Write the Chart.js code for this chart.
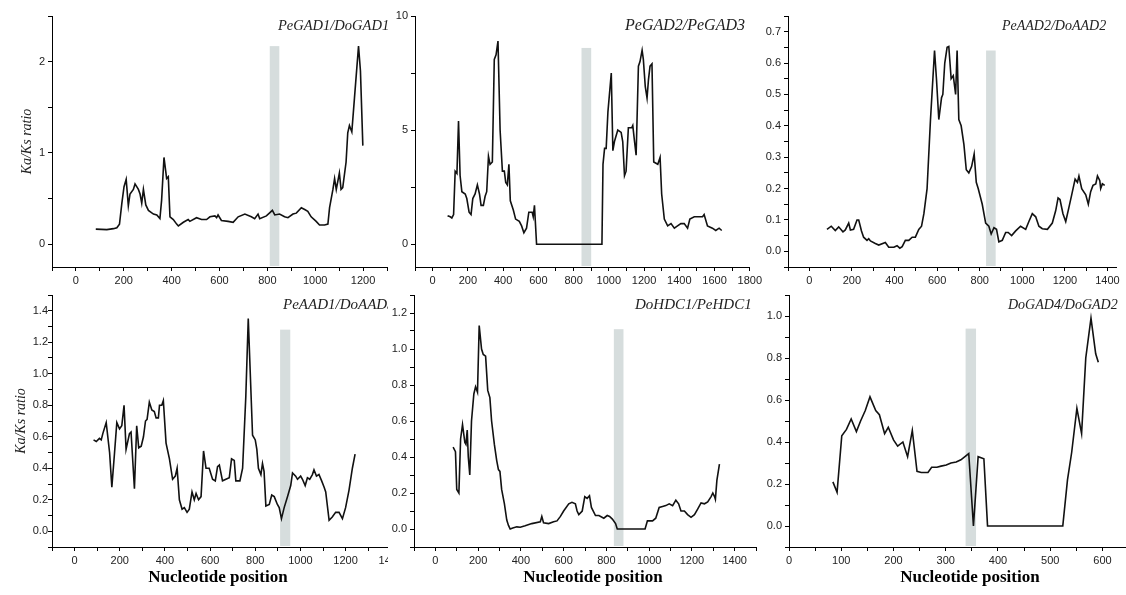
<!DOCTYPE html>
<html>
<head>
<meta charset="utf-8">
<title>Ka/Ks ratio</title>
<script src="https://cdn.jsdelivr.net/npm/chart.js@4.4.1/dist/chart.umd.min.js"></script>
<style>
    html, body { margin: 0; padding: 0; background: #fff; }
    #wrap { position: relative; width: 1126px; height: 595px; overflow: hidden; }
    .panel { position: absolute; overflow: hidden; }
    .panel canvas { display: block; }
</style>
</head>
<body>
<div id="wrap"></div>
<script>
        // 패널 이름
        const names = ['PeGAD1/DoGAD1', 'PeGAD2/PeGAD3', 'PeAAD2/DoAAD2', 'PeAAD1/DoAAD3', 'DoHDC1/PeHDC1', 'DoGAD4/DoGAD2'];

        // nucleotide position / Ka/Ks ratio
        const pos1 = [83,129,157,171,182,192,201,210,219,226,240,247,261,268,275,282,292,303,324,338,351,358,368,379,386,393,407,421,428,449,469,476,504,525,546,560,581,588,594,608,636,657,678,706,733,747,761,768,796,821,831,851,872,886,907,921,942,956,969,983,1004,1018,1039,1053,1060,1074,1081,1088,1101,1108,1115,1129,1136,1143,1153,1164,1181,1189,1199];
        const ratio1 = [0.165,0.16,0.17,0.18,0.22,0.45,0.63,0.71,0.42,0.55,0.6,0.66,0.6,0.55,0.45,0.6,0.43,0.37,0.33,0.32,0.28,0.48,0.95,0.72,0.74,0.3,0.27,0.22,0.2,0.24,0.27,0.25,0.29,0.27,0.27,0.3,0.31,0.29,0.32,0.26,0.25,0.24,0.3,0.33,0.3,0.28,0.33,0.28,0.31,0.37,0.32,0.33,0.3,0.29,0.33,0.34,0.4,0.38,0.36,0.3,0.25,0.21,0.21,0.22,0.4,0.6,0.72,0.6,0.78,0.6,0.62,0.9,1.22,1.3,1.23,1.6,2.17,1.9,1.08];

        const pos2 = [85,100,109,119,128,138,147,156,166,185,194,207,218,228,241,254,266,275,288,298,307,317,326,339,350,360,371,383,396,407,415,424,433,441,458,471,492,505,518,533,546,565,571,578,590,961,967,976,985,995,1014,1023,1032,1051,1070,1079,1089,1098,1111,1130,1136,1146,1155,1168,1177,1189,1196,1207,1217,1225,1234,1245,1255,1278,1291,1300,1315,1334,1353,1372,1390,1409,1428,1447,1460,1485,1504,1532,1541,1560,1588,1607,1626,1641];
        const ratio2 = [1.25,1.2,1.15,1.3,3.2,3.1,5.4,3.0,2.3,2.2,2.0,1.4,1.3,2.0,2.2,2.6,2.2,1.7,1.7,2.1,2.3,3.85,3.5,3.6,8.1,8.3,8.9,5.0,3.2,3.2,2.7,2.6,3.5,1.9,1.5,1.1,1.0,0.8,0.5,0.7,1.4,1.4,1.2,1.7,0,0,3.5,4.2,4.2,5.8,7.5,4.1,4.5,5.0,4.9,4.5,3.0,3.2,5.1,5.1,5.2,4.5,3.9,7.8,8.0,8.5,8.1,6.9,6.4,7.2,7.8,7.9,3.6,3.5,3.8,2.2,1.1,0.8,0.9,0.7,0.8,0.9,0.9,0.7,1.1,1.2,1.2,1.2,1.3,0.8,0.7,0.6,0.7,0.6];

        const pos3 = [83,103,122,138,158,169,185,193,208,224,232,245,255,271,279,287,310,326,357,373,397,412,425,436,451,467,483,498,514,527,538,553,569,588,597,608,621,627,636,647,655,666,676,687,694,702,713,726,737,749,762,774,784,793,812,828,843,854,867,879,890,906,922,934,950,969,992,1016,1031,1047,1063,1078,1094,1118,1141,1157,1168,1177,1191,1204,1219,1232,1248,1259,1266,1279,1298,1310,1321,1332,1345,1353,1364,1368,1376,1387];
        const ratio3 = [0.07,0.08,0.066,0.078,0.062,0.068,0.09,0.068,0.07,0.1,0.1,0.065,0.045,0.035,0.04,0.033,0.025,0.02,0.028,0.013,0.013,0.018,0.01,0.015,0.035,0.035,0.045,0.045,0.07,0.08,0.12,0.2,0.42,0.64,0.55,0.42,0.49,0.5,0.6,0.65,0.653,0.55,0.56,0.5,0.64,0.42,0.4,0.34,0.26,0.25,0.27,0.31,0.22,0.2,0.15,0.09,0.08,0.055,0.075,0.07,0.03,0.035,0.06,0.06,0.05,0.065,0.08,0.07,0.095,0.12,0.11,0.08,0.072,0.07,0.09,0.13,0.17,0.165,0.12,0.095,0.14,0.18,0.23,0.22,0.24,0.2,0.18,0.15,0.19,0.21,0.215,0.24,0.225,0.2,0.215,0.21];

        const pos4 = [84,96,110,118,125,140,155,165,177,187,199,209,219,228,243,250,265,275,284,295,305,314,321,331,342,353,361,371,376,386,393,405,420,434,446,454,464,476,486,498,508,520,530,538,549,560,571,582,596,611,623,633,641,655,670,685,695,707,714,732,744,758,769,778,788,800,807,814,825,832,839,847,862,873,884,898,906,916,928,943,957,965,979,987,1001,1009,1021,1031,1041,1053,1060,1071,1082,1094,1105,1112,1127,1141,1156,1171,1186,1200,1215,1230,1242];
        const ratio4 = [0.58,0.57,0.59,0.58,0.62,0.69,0.5,0.28,0.5,0.69,0.65,0.67,0.8,0.52,0.62,0.63,0.27,0.67,0.53,0.54,0.6,0.7,0.71,0.82,0.77,0.76,0.72,0.72,0.8,0.8,0.83,0.56,0.46,0.33,0.35,0.4,0.2,0.14,0.15,0.12,0.14,0.25,0.2,0.24,0.2,0.22,0.51,0.4,0.4,0.33,0.32,0.41,0.42,0.32,0.33,0.34,0.46,0.45,0.32,0.32,0.4,0.85,1.35,1.0,0.61,0.58,0.52,0.4,0.36,0.43,0.38,0.16,0.17,0.23,0.22,0.17,0.15,0.08,0.15,0.22,0.29,0.37,0.35,0.33,0.35,0.33,0.29,0.34,0.33,0.36,0.39,0.35,0.36,0.32,0.28,0.25,0.07,0.09,0.12,0.12,0.08,0.15,0.26,0.4,0.49];

        const pos5 = [83,94,100,110,118,127,138,143,149,154,161,169,180,188,197,205,216,224,235,245,255,263,276,287,295,302,310,323,334,342,350,362,381,397,420,451,491,498,506,530,553,569,585,600,624,639,655,663,671,687,699,710,721,730,749,765,788,804,815,828,843,851,981,992,1016,1031,1047,1063,1078,1094,1110,1125,1138,1149,1165,1180,1196,1212,1227,1243,1259,1274,1290,1298,1306,1310,1317,1329];
        const ratio5 = [0.455,0.43,0.22,0.2,0.5,0.58,0.48,0.47,0.55,0.4,0.3,0.6,0.75,0.79,0.76,1.13,1.0,0.97,0.96,0.77,0.73,0.6,0.47,0.38,0.33,0.32,0.22,0.14,0.05,0.02,0.0,0.005,0.012,0.01,0.018,0.03,0.04,0.07,0.035,0.03,0.04,0.045,0.07,0.1,0.14,0.148,0.14,0.1,0.08,0.1,0.18,0.17,0.185,0.12,0.075,0.075,0.06,0.075,0.07,0.055,0.03,0.0,0.0,0.045,0.045,0.06,0.12,0.125,0.13,0.14,0.13,0.16,0.14,0.1,0.1,0.08,0.065,0.08,0.11,0.145,0.14,0.15,0.18,0.2,0.18,0.165,0.27,0.36];

        const pos6 = [84,92,101,110,119,129,137,146,155,166,173,183,190,200,208,218,227,236,245,253,266,273,283,291,301,310,320,329,344,353,362,373,380,524,533,541,551,560,568,578,587,592];
        const ratio6 = [0.21,0.16,0.43,0.46,0.51,0.45,0.5,0.55,0.615,0.55,0.53,0.44,0.47,0.41,0.38,0.4,0.33,0.455,0.26,0.255,0.255,0.28,0.28,0.285,0.29,0.3,0.305,0.315,0.345,0.0,0.33,0.32,0.0,0.0,0.22,0.35,0.56,0.44,0.8,0.99,0.82,0.78];

        // 회색 영역 (start, end, top)
        const bandStart = [810, 845, 830, 910, 835, 338];
        const bandEnd = [850, 900, 875, 955, 880, 358];
        const bandTop = [2.17, 8.6, 0.64, 1.28, 1.11, 0.94];

        const positions = [pos1, pos2, pos3, pos4, pos5, pos6];
        const ratios = [ratio1, ratio2, ratio3, ratio4, ratio5, ratio6];

        // 패널 배치 / 축 범위  x: [min, max, step, major]  y: [min, max, step, major, decimals]
        const layout = [
            { left: 0, top: 0, width: 400, height: 290, clip: 388, yW: 52, padTop: 16, padRight: 13, xH: 23, yPad: 3, yTitlePad: 19,
              x: [-100, 1300, 100, 200], y: [-0.25, 2.5, 0.5, 1, 0], yTitle: true, xTitle: false, nameX: 226, nameSize: 14.5 },
            { left: 388, top: 0, width: 377, height: 290, yW: 27, padTop: 16, padRight: 14, xH: 23, yPad: 3,
              x: [-100, 1800, 100, 200], y: [-1, 10, 2.5, 5, 0], yTitle: false, xTitle: false, nameX: 210, nameSize: 16 },
            { left: 765, top: 0, width: 361, height: 290, yW: 23, padTop: 16, padRight: 10, xH: 23, yPad: 3,
              x: [-100, 1440, 100, 200], y: [-0.05, 0.75, 0.05, 0.1, 1], yTitle: false, xTitle: false, nameX: 214, nameSize: 14 },
            { left: 0, top: 280, width: 406, height: 315, clip: 388, yW: 52, padTop: 15, padRight: 14, xH: 48, yPad: 0, yTitlePad: 13,
              x: [-100, 1400, 100, 200], y: [-0.1, 1.5, 0.1, 0.2, 1], yTitle: true, xTitle: true, nameX: 231, nameSize: 15, xTitleX: 166 },
            { left: 388, top: 280, width: 382, height: 315, yW: 26, padTop: 15, padRight: 14, xH: 48, yPad: 3,
              x: [-100, 1500, 100, 200], y: [-0.1, 1.3, 0.1, 0.2, 1], yTitle: false, xTitle: true, nameX: 221, nameSize: 15, xTitleX: 179 },
            { left: 765, top: 280, width: 361, height: 315, yW: 24, padTop: 15, padRight: 0, xH: 48, yPad: 3,
              x: [0, 645, 50, 100], y: [-0.1, 1.1, 0.1, 0.2, 1], yTitle: false, xTitle: true, nameX: 219, nameSize: 14, xTitleX: 181 }
        ];

        const tickFont = { family: "'Liberation Sans', Arial, sans-serif", size: 11 };

        function makeTicks(min, max, step) {
            const ticks = [];
            for (let v = Math.ceil(min / step - 1e-9) * step; v <= max + 1e-9; v += step) {
                ticks.push({ value: +v.toFixed(6) });
            }
            return ticks;
        }

        function majorLabel(major, decimals) {
            return function (value) {
                const q = value / major;
                if (Math.abs(q - Math.round(q)) > 1e-6) return '';
                return Number(value).toFixed(decimals);
            };
        }

        // 회색 영역 + 패널 텍스트
        const panelDeco = {
            id: 'panelDeco',
            beforeDatasetsDraw(chart, args, opts) {
                const { ctx, chartArea, scales: { x, y } } = chart;
                const x1 = x.getPixelForValue(opts.bandStart);
                const x2 = x.getPixelForValue(opts.bandEnd);
                const y1 = y.getPixelForValue(opts.bandTop);
                ctx.save();
                ctx.fillStyle = 'rgb(214, 221, 221)';
                ctx.fillRect(x1, y1, x2 - x1, chartArea.bottom - 1 - y1);
                ctx.restore();
            },
            afterDraw(chart, args, opts) {
                const { ctx, chartArea } = chart;
                ctx.save();
                ctx.fillStyle = '#222';
                ctx.textBaseline = 'middle';
                ctx.textAlign = 'left';
                ctx.font = 'italic ' + opts.nameSize + 'px "Liberation Serif", "Times New Roman", serif';
                ctx.fillText(opts.name, chartArea.left + opts.nameX, chartArea.top + 10);
                if (opts.xTitle) {
                    ctx.fillStyle = '#000';
                    ctx.textAlign = 'center';
                    ctx.font = 'bold 17px "Liberation Serif", "Times New Roman", serif';
                    ctx.fillText('Nucleotide position', chartArea.left + opts.xTitleX, chartArea.bottom + 31);
                }
                ctx.restore();
            }
        };

        function createPanel(i) {
            const L = layout[i];
            const box = document.createElement('div');
            box.className = 'panel';
            box.style.left = L.left + 'px';
            box.style.top = L.top + 'px';
            box.style.width = (L.clip || L.width) + 'px';
            box.style.height = L.height + 'px';
            const canvas = document.createElement('canvas');
            canvas.width = L.width;
            canvas.height = L.height;
            box.appendChild(canvas);
            document.getElementById('wrap').appendChild(box);

            const points = positions[i].map((p, k) => ({ x: p, y: ratios[i][k] }));

            return new Chart(canvas.getContext('2d'), {
                type: 'line',
                data: {
                    datasets: [{
                        label: names[i],
                        data: points,
                        borderColor: '#111',
                        borderWidth: 1.6,
                        pointRadius: 0,
                        tension: 0,
                        fill: false
                    }]
                },
                options: {
                    responsive: false,
                    animation: false,
                    events: [],
                    layout: { padding: { left: 0, top: L.padTop, right: L.padRight, bottom: 0 } },
                    plugins: {
                        legend: { display: false },
                        tooltip: { enabled: false },
                        panelDeco: {
                            name: names[i],
                            nameX: L.nameX,
                            nameSize: L.nameSize,
                            xTitle: L.xTitle,
                            xTitleX: L.xTitleX,
                            bandStart: bandStart[i],
                            bandEnd: bandEnd[i],
                            bandTop: bandTop[i]
                        }
                    },
                    scales: {
                        x: {
                            type: 'linear',
                            min: L.x[0],
                            max: L.x[1],
                            afterBuildTicks: s => { s.ticks = makeTicks(L.x[0], L.x[1], L.x[2]); },
                            afterFit: s => { s.height = L.xH; },
                            grid: { drawOnChartArea: false, drawTicks: true, tickLength: 4, color: '#000' },
                            border: { display: true, color: '#000', width: 1 },
                            ticks: {
                                autoSkip: false,
                                maxRotation: 0,
                                padding: 3,
                                color: '#222',
                                font: tickFont,
                                callback: majorLabel(L.x[3], 0)
                            }
                        },
                        y: {
                            type: 'linear',
                            min: L.y[0],
                            max: L.y[1],
                            afterBuildTicks: s => { s.ticks = makeTicks(L.y[0], L.y[1], L.y[2]); },
                            afterFit: s => { s.width = L.yW; },
                            grid: { drawOnChartArea: false, drawTicks: true, tickLength: 4, color: '#000' },
                            border: { display: true, color: '#000', width: 1 },
                            title: {
                                display: L.yTitle,
                                text: 'Ka/Ks ratio',
                                color: '#222',
                                font: { family: "'Liberation Serif', 'Times New Roman', serif", size: 14, style: 'italic' },
                                padding: { top: L.yTitlePad || 0, bottom: 0 }
                            },
                            ticks: {
                                autoSkip: false,
                                padding: L.yPad,
                                color: '#222',
                                font: tickFont,
                                callback: majorLabel(L.y[3], L.y[4])
                            }
                        }
                    }
                },
                plugins: [panelDeco]
            });
        }

        const charts = [];
        for (let i = 0; i < 6; i++) {
            charts.push(createPanel(i));
        }
</script>
</body>
</html>
